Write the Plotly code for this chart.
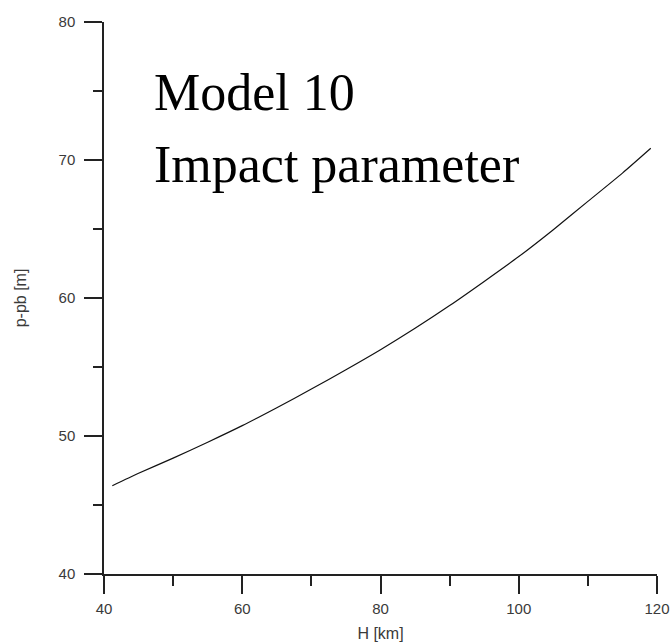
import plotly.graph_objects as go

# Data
h_km = [41.2, 45, 50, 55, 60, 65, 70, 75, 80, 85, 90, 95, 100, 105, 110, 115, 119.1]
p_pb = [46.4, 47.3, 48.4, 49.55, 50.75, 52.05, 53.4, 54.8, 56.25, 57.8, 59.45, 61.2, 63.0, 64.95, 67.0, 69.05, 70.85]

x_ticks = [40, 60, 80, 100, 120]
y_ticks = [40, 50, 60, 70, 80]

fig = go.Figure()
fig.add_trace(go.Scatter(
    x=h_km, y=p_pb, mode="lines",
    line=dict(color="#111111", width=1.2, shape="spline", smoothing=0.6),
    showlegend=False, hoverinfo="skip",
))

tick_font = dict(family="Liberation Sans, Arial, sans-serif", size=15, color="#3a3a3a")
title_font = dict(family="Liberation Sans, Arial, sans-serif", size=16, color="#3a3a3a")
axis_common = dict(
    showgrid=False, zeroline=False, showline=True, automargin=False,
    linecolor="#222222", linewidth=1.5,
    ticks="outside", ticklen=18, tickwidth=1.5, tickcolor="#222222",
    tickfont=tick_font, title_font=title_font,
)

fig.update_xaxes(
    range=[40, 120], tickvals=x_ticks, ticktext=[str(v) for v in x_ticks],
    title_text="H [km]", title_standoff=12, ticklabelstandoff=2,
    minor=dict(ticks="outside", ticklen=10, tickwidth=1.5, tickcolor="#222222", dtick=10, tick0=40),
    **axis_common,
)
fig.update_yaxes(
    range=[40, 80], tickvals=y_ticks, ticktext=[str(v) for v in y_ticks],
    title_text="p-pb [m]", title_standoff=28, ticklabelstandoff=6,
    minor=dict(ticks="outside", ticklen=9, tickwidth=1.5, tickcolor="#222222", dtick=5, tick0=40),
    **axis_common,
)

serif = dict(family="Liberation Serif, Times New Roman, serif", size=52, color="#000000")
fig.add_annotation(
    x=0.087, y=1.0, xref="paper", yref="paper", yshift=-40, text="Model 10", showarrow=False,
    xanchor="left", yanchor="top", font=serif,
)
fig.add_annotation(
    x=0.087, y=1.0, xref="paper", yref="paper", yshift=-112, text="Impact parameter", showarrow=False,
    xanchor="left", yanchor="top", font=serif,
)

fig.update_layout(
    width=672, height=642,
    margin=dict(l=104, r=15, t=22, b=68),
    paper_bgcolor="white", plot_bgcolor="white",
)

fig.write_html("out.html")
